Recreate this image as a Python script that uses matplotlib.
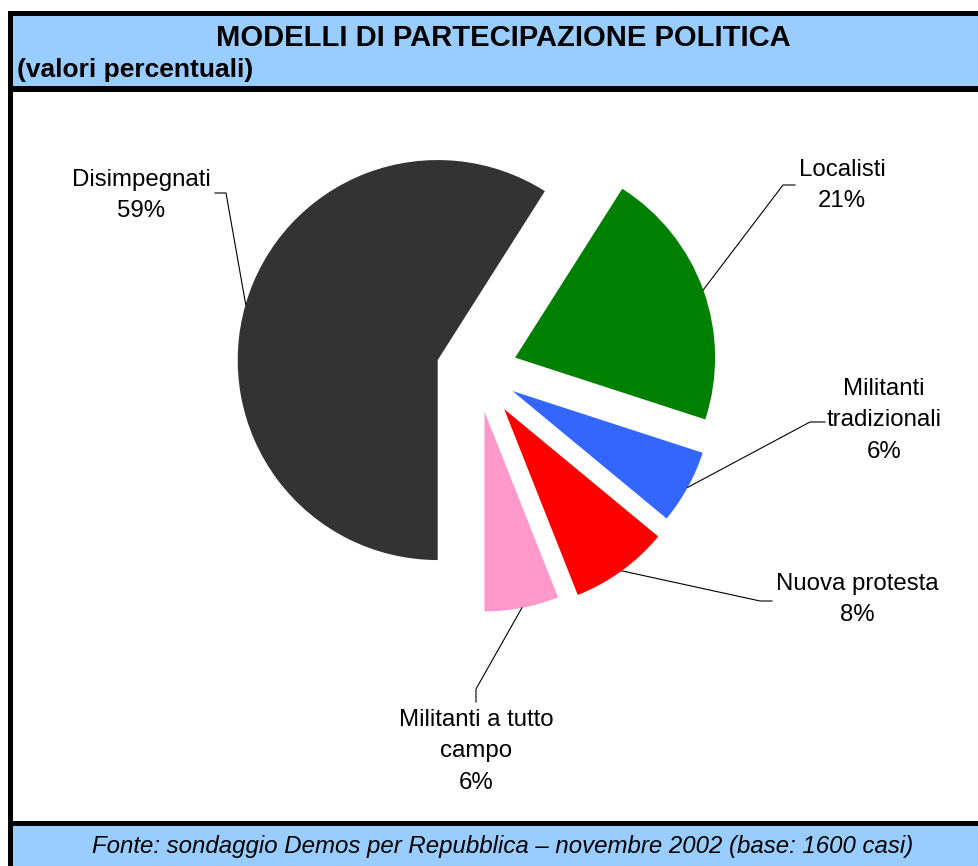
#!/usr/bin/env python3

import math
import matplotlib
matplotlib.use('Agg')
import matplotlib.pyplot as plt
from matplotlib.patches import Rectangle

plt.rcParams['font.family'] = ['Liberation Sans', 'DejaVu Sans']

# data
categories = ['Disimpegnati', 'Localisti', 'Militanti\ntradizionali',
              'Nuova protesta', 'Militanti a tutto\ncampo']
values = [59, 21, 6, 8, 6]
colors = ['#333333', '#008000', '#3366FF', '#FF0000', '#FF99CC']

title = 'MODELLI DI PARTECIPAZIONE POLITICA'
subtitle = '(valori percentuali)'
source = 'Fonte: sondaggio Demos per Repubblica \u2013 novembre 2002 (base: 1600 casi)'

W, H = 979, 866
BLUE = '#99CCFF'


def Y(y):
    # image rows (top down) -> axes units (bottom up)
    return H - y


fig = plt.figure(figsize=(W / 100, H / 100), dpi=100)
ax = fig.add_axes([0, 0, 1, 1])

# frame, header and footer bands
ax.add_patch(Rectangle((8, Y(H + 5)), W, H - 6, facecolor='black', lw=0, zorder=0))
ax.add_patch(Rectangle((13, Y(86)), W, 70, facecolor=BLUE, lw=0, zorder=1))
ax.add_patch(Rectangle((13, Y(821)), W, 729, facecolor='white', lw=0, zorder=1))
ax.add_patch(Rectangle((13, Y(H + 5)), W, H + 5 - 826, facecolor=BLUE, lw=0, zorder=1))

ax.text(503, Y(38), title, ha='center', va='center', fontsize=21,
        fontweight='bold', zorder=3)
ax.text(17, Y(70), subtitle, ha='left', va='center', fontsize=19,
        fontweight='bold', zorder=3)
ax.text(503, Y(847), source, ha='center', va='center', fontsize=17.3,
        style='italic', zorder=3)

# pie, all slices pulled out a little
explode = [40.7, 40.7, 40.7, 46.5, 40.7]
wedges, _ = ax.pie(values, colors=colors, startangle=-90, counterclock=False,
                   center=(476.8, Y(371.4)), radius=200, explode=explode,
                   frame=True, wedgeprops=dict(linewidth=0))
for w in wedges:
    w.set_zorder(2)

# label blocks and leader lines (text end, elbow)
label_pos = [(141, 195.5), (842, 185.5), (884, 420.5), (857, 599.5), (476, 751.5)]
leaders = [((215, 193), (226, 193)),
           ((795, 185), (783, 185)),
           ((825, 422), (810, 422)),
           ((772, 601), (760, 601)),
           ((476, 702), (476, 689))]

for w, cat, val, pos, (p0, p1) in zip(wedges, categories, values, label_pos, leaders):
    ax.text(pos[0], Y(pos[1]), '%s\n%d%%' % (cat, val), ha='center',
            va='center', fontsize=17.3, linespacing=1.55, zorder=3)
    ang = math.radians((w.theta1 + w.theta2) / 2)
    cx, cy = w.center
    end = (cx + w.r * math.cos(ang), cy + w.r * math.sin(ang))
    ax.plot([p0[0], p1[0], end[0]], [Y(p0[1]), Y(p1[1]), end[1]],
            color='black', lw=0.8, zorder=3)

ax.set_xlim(0, W)
ax.set_ylim(0, H)
ax.axis('off')

fig.savefig('out.png', dpi=100)
